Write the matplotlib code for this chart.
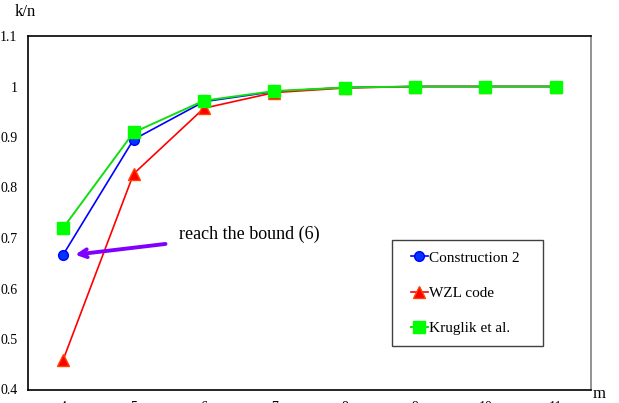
import matplotlib
matplotlib.use("Agg")
import matplotlib.pyplot as plt
from matplotlib.patches import Rectangle

plt.rcParams['font.family'] = ['Liberation Serif', 'DejaVu Serif']

m_values = [4, 5, 6, 7, 8, 9, 10, 11]
construction2 = [0.667, 0.895, 0.970, 0.990, 0.998, 1.0, 1.0, 1.0]
wzl_code = [0.459, 0.827, 0.957, 0.988, 0.997, 1.0, 1.0, 1.0]
kruglik = [0.720, 0.909, 0.972, 0.991, 0.998, 1.0, 1.0, 1.0]
y_ticks = [0.4, 0.5, 0.6, 0.7, 0.8, 0.9, 1.0, 1.1]
y_tick_labels = ["0.4", "0.5", "0.6", "0.7", "0.8", "0.9", "1", "1.1"]

W, H = 619, 403
fig = plt.figure(figsize=(W / 100, H / 100), dpi=100)
ax = fig.add_axes([28 / W, 1 - 389.5 / H, 563 / W, 353.5 / H])

ax.plot(m_values, construction2, color='#0000FF', lw=1.2, marker='o', ms=7,
        mfc='#0033FF', mec='#0000FF', label='Construction 2', zorder=3)
ax.plot(m_values, wzl_code, color='#FF0000', lw=1.2, marker='^', ms=9,
        mfc='#FF0000', mec='#FF4400', label='WZL code', zorder=3)
ax.plot(m_values, kruglik, color='#11DD11', lw=1.4, marker='s', ms=9,
        mfc='#00FF00', mec='#00FF00', label='Kruglik et al.', zorder=4)

ax.set_xlim(3.5, 11.5)
ax.set_ylim(0.4, 1.1)
ax.set_xticks(m_values)
ax.set_xticklabels([str(v) for v in m_values], fontsize=10)
ax.set_yticks(y_ticks)
ax.set_yticklabels(y_tick_labels, fontsize=10)
ax.tick_params(axis='both', length=0)
ax.tick_params(axis='y', pad=7.5)
ax.tick_params(axis='x', pad=8)

for side in ('left', 'bottom', 'top'):
    ax.spines[side].set_color('black')
    ax.spines[side].set_linewidth(1.2)
ax.spines['right'].set_color('#808080')
ax.spines['right'].set_linewidth(1.2)

fig.text(25 / W, 1 - 12 / H, 'k/n', fontsize=12, ha='center', va='center')
fig.text(599 / W, 1 - 394 / H, 'm', fontsize=12, ha='center', va='center')

ax.annotate('reach the bound (6)', xy=(4.17, construction2[0]),
            xytext=(5.65, 0.708), fontsize=13, va='center', ha='left',
            arrowprops=dict(arrowstyle='->', color='#7F00FF', lw=2.8,
                            shrinkA=8, shrinkB=0, mutation_scale=14))

# legend panel: frame drawn separately, entries placed inside it
fig.patches.append(Rectangle((392 / W, 1 - 346 / H), 151 / W, 106 / H,
                             transform=fig.transFigure, facecolor='white',
                             edgecolor='#404040', lw=1.0, zorder=5))
leg = fig.legend(loc='upper left', bbox_to_anchor=(411 / W, 1 - 251 / H),
                 fontsize=11, frameon=False, handlelength=1.1,
                 handletextpad=0.05, labelspacing=1.42, borderpad=0,
                 borderaxespad=0)
leg.set_zorder(6)

fig.savefig('out.png', dpi=100)
